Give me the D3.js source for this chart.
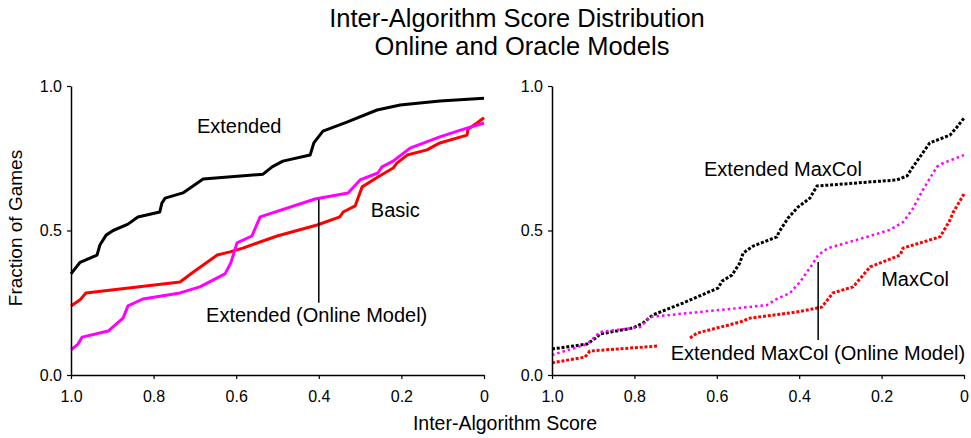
<!DOCTYPE html>
<html>
<head>
<meta charset="utf-8">
<script src="https://cdn.jsdelivr.net/npm/d3@7"></script>
<style>
  body { margin: 0; background: #fff; }
  text { font-family: "Liberation Sans", Arial, Helvetica, sans-serif; fill: #000; }
</style>
</head>
<body>
<svg id="chart" width="971" height="438"></svg>
<script>
// ---- data ----
var xTicks = [1.0, 0.8, 0.6, 0.4, 0.2, 0];
var yTicks = [0, 0.5, 1.0];

// left panel: online / oracle models
var extendedX = [1.0, 0.978, 0.937, 0.930, 0.915, 0.898, 0.862, 0.838, 0.785, 0.780, 0.772, 0.729, 0.680, 0.535, 0.513, 0.487, 0.421, 0.412, 0.390, 0.332, 0.259, 0.203, 0.107, 0.0];
var extendedY = [0.35, 0.39, 0.415, 0.45, 0.484, 0.50, 0.522, 0.547, 0.564, 0.595, 0.612, 0.63, 0.678, 0.695, 0.72, 0.74, 0.761, 0.803, 0.844, 0.875, 0.917, 0.934, 0.948, 0.958];

var basicX = [1.0, 0.978, 0.964, 0.736, 0.707, 0.646, 0.615, 0.584, 0.501, 0.404, 0.349, 0.341, 0.312, 0.295, 0.257, 0.220, 0.211, 0.186, 0.138, 0.107, 0.041, 0.039, 0.017, 0.0];
var basicY = [0.239, 0.26, 0.284, 0.322, 0.353, 0.415, 0.426, 0.439, 0.481, 0.519, 0.547, 0.564, 0.585, 0.651, 0.685, 0.716, 0.733, 0.761, 0.779, 0.803, 0.83, 0.85, 0.872, 0.89];

var extOnlineX = [1.0, 0.983, 0.973, 0.910, 0.874, 0.862, 0.826, 0.736, 0.688, 0.627, 0.613, 0.598, 0.562, 0.542, 0.409, 0.329, 0.300, 0.257, 0.247, 0.220, 0.179, 0.107, 0.051, 0.0];
var extOnlineY = [0.087, 0.107, 0.131, 0.152, 0.197, 0.239, 0.263, 0.284, 0.305, 0.35, 0.388, 0.457, 0.481, 0.547, 0.609, 0.63, 0.675, 0.699, 0.72, 0.74, 0.785, 0.824, 0.85, 0.872];

// right panel: MaxCol variants (null = gap in the curve)
var extMaxColX = [1.0, 0.915, 0.891, 0.883, 0.803, 0.779, 0.755, 0.682, 0.597, 0.587, 0.563, 0.544, 0.536, 0.512, 0.454, 0.449, 0.427, 0.403, 0.374, 0.357, 0.163, 0.138, 0.126, 0.083, 0.034, 0.017, 0.0];
var extMaxColY = [0.09, 0.107, 0.131, 0.142, 0.163, 0.18, 0.208, 0.249, 0.301, 0.325, 0.346, 0.388, 0.422, 0.446, 0.478, 0.495, 0.543, 0.581, 0.612, 0.654, 0.675, 0.689, 0.716, 0.803, 0.83, 0.858, 0.889];

var extMaxColOnlineX = [1.0, 0.915, 0.883, 0.786, 0.762, 0.544, 0.478, 0.459, 0.422, 0.398, 0.369, 0.354, 0.330, 0.245, 0.180, 0.148, 0.126, 0.100, 0.066, 0.051, 0.0];
var extMaxColOnlineY = [0.069, 0.107, 0.149, 0.166, 0.201, 0.232, 0.242, 0.26, 0.284, 0.322, 0.381, 0.415, 0.439, 0.474, 0.502, 0.529, 0.571, 0.64, 0.72, 0.733, 0.761];

var maxColX = [1.0, 0.920, 0.908, 0.745, null, 0.665, 0.648, 0.544, 0.519, 0.405, 0.345, 0.318, 0.269, 0.228, 0.155, 0.148, 0.058, 0.034, 0.027, 0.0];
var maxColY = [0.042, 0.062, 0.083, 0.10, null, 0.128, 0.145, 0.183, 0.197, 0.218, 0.235, 0.284, 0.305, 0.374, 0.415, 0.439, 0.478, 0.536, 0.561, 0.626];

var zip = function(xs, ys) {
    return xs.map(function(x, i) { return {x: x, y: ys[i]}; });
};

var svg = d3.select("#chart");
var plotTop = 86, plotBottom = 375;

var y = d3.scaleLinear().domain([0, 1]).range([plotBottom, plotTop]);

function panel(left, right, series, labels, leader) {
    var x = d3.scaleLinear().domain([1, 0]).range([left, right]);
    var g = svg.append("g");

    var line = d3.line()
        .defined(d => d.x !== null)
        .x(d => x(d.x))
        .y(d => y(d.y));

    g.selectAll("path.series")
        .data(series)
        .enter()
        .append("path")
        .attr("class", "series")
        .attr("fill", "none")
        .attr("stroke", d => d.color)
        .attr("stroke-width", d => d.width)
        .attr("stroke-dasharray", d => d.dash)
        .attr("stroke-linejoin", "round")
        .attr("d", d => line(d.values));

    // leader line from curve to label
    g.append("line")
        .attr("x1", x(leader[0])).attr("x2", x(leader[0]))
        .attr("y1", y(leader[1])).attr("y2", y(leader[2]))
        .attr("stroke", "#000")
        .attr("stroke-width", 1.5);

    g.selectAll("text.lab")
        .data(labels)
        .enter()
        .append("text")
        .attr("class", "lab")
        .attr("x", d => x(d.x))
        .attr("y", d => y(d.y))
        .attr("text-anchor", d => d.anchor || "start")
        .style("font-size", "20px")
        .text(d => d.text);

    var yAxis = g.append("g")
        .attr("transform", "translate(" + left + ",0)")
        .call(d3.axisLeft(y).tickValues(yTicks).tickFormat(d3.format(".1f"))
            .tickSize(4).tickSizeOuter(0).tickPadding(5));
    var xAxis = g.append("g")
        .attr("transform", "translate(0," + plotBottom + ")")
        .call(d3.axisBottom(x).tickValues(xTicks)
            .tickFormat(d => d === 0 ? "0" : d3.format(".1f")(d))
            .tickSize(4).tickSizeOuter(0).tickPadding(12));
    [yAxis, xAxis].forEach(function(a) {
        a.attr("font-size", 16).attr("font-family", "'Liberation Sans', Arial, sans-serif");
        a.selectAll("text").style("font-size", "16px").attr("fill", "#000");
        a.select(".domain").attr("stroke-width", 1.5);
        a.selectAll(".tick line").attr("stroke-width", 1.2);
    });
}

panel(71, 484, [
    {values: zip(extendedX, extendedY), color: "#000000", width: 3, dash: null},
    {values: zip(basicX, basicY), color: "#ff0000", width: 3, dash: null},
    {values: zip(extOnlineX, extOnlineY), color: "#ff00ff", width: 3, dash: null}
], [
    {text: "Extended", x: 0.695, y: 0.837},
    {text: "Basic", x: 0.274, y: 0.547},
    {text: "Extended (Online Model)", x: 0.673, y: 0.183}
], [0.40, 0.607, 0.25]);

panel(552, 964, [
    {values: zip(extMaxColX, extMaxColY), color: "#000000", width: 3, dash: "3,1.8"},
    {values: zip(maxColX, maxColY), color: "#ff0000", width: 3, dash: "3,1.8"},
    {values: zip(extMaxColOnlineX, extMaxColOnlineY), color: "#ff00ff", width: 2.5, dash: "2.5,3"}
], [
    {text: "Extended MaxCol", x: 0.631, y: 0.689},
    {text: "MaxCol", x: 0.201, y: 0.308},
    {text: "Extended MaxCol (Online Model)", x: -0.003, y: 0.052, anchor: "end"}
], [0.354, 0.391, 0.121]);

// titles
svg.append("text").attr("x", 517).attr("y", 27).attr("text-anchor", "middle")
    .style("font-size", "25.5px").text("Inter-Algorithm Score Distribution");
svg.append("text").attr("x", 522).attr("y", 55).attr("text-anchor", "middle")
    .style("font-size", "25.5px").text("Online and Oracle Models");
svg.append("text").attr("x", 505).attr("y", 430).attr("text-anchor", "middle")
    .style("font-size", "19.5px").text("Inter-Algorithm Score");
svg.append("text").attr("transform", "translate(22,228) rotate(-90)").attr("text-anchor", "middle")
    .style("font-size", "19px").text("Fraction of Games");
</script>
</body>
</html>
